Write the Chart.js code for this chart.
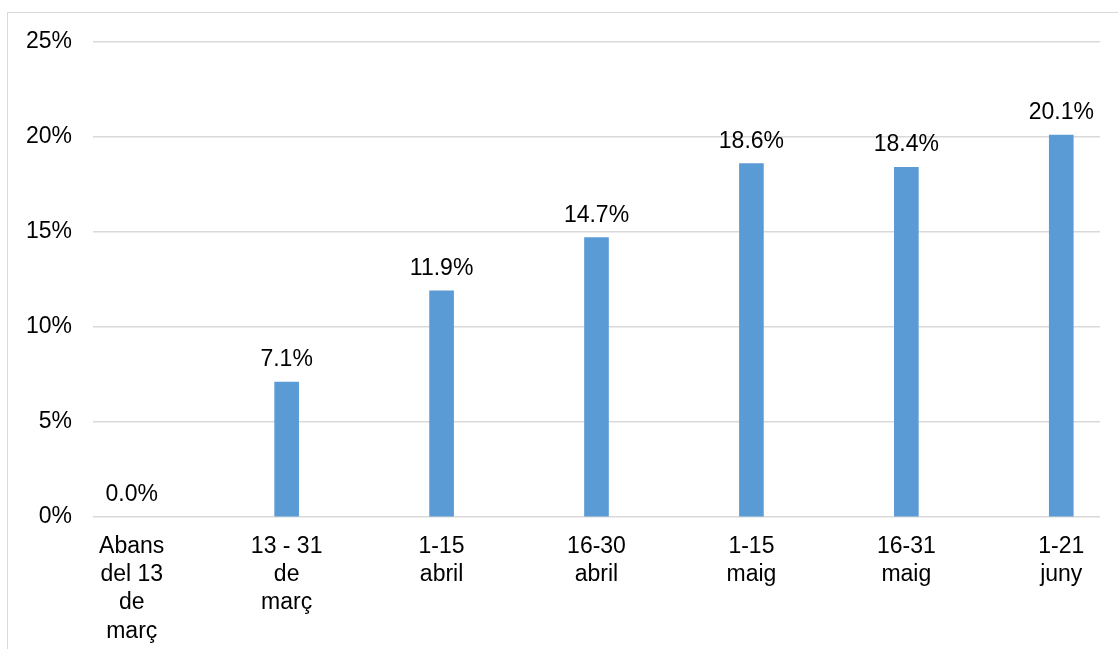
<!DOCTYPE html>
<html>
<head>
<meta charset="utf-8">
<script src="https://cdn.jsdelivr.net/npm/chart.js@4"></script>
<style>
  html, body { margin: 0; padding: 0; background: #fff; overflow: hidden; }
  #frame {
    position: absolute; left: 7px; top: 12px; width: 2000px; height: 2000px;
    border-left: 1.5px solid #d9d9d9; border-top: 1.5px solid #d9d9d9;
  }
  #chart { position: absolute; left: 0; top: 0; }
</style>
</head>
<body>
<div id="frame"></div>
<canvas id="chart" width="1118" height="649"></canvas>
<script>
// periodes (etiquetes en diverses línies)
const categories = [
  ["Abans", "del 13", "de", "març"],
  ["13 - 31", "de", "març"],
  ["1-15", "abril"],
  ["16-30", "abril"],
  ["1-15", "maig"],
  ["16-31", "maig"],
  ["1-21", "juny"],
];
const values = [0.0, 7.1, 11.9, 14.7, 18.6, 18.4, 20.1];
const yTicks = [0, 5, 10, 15, 20, 25];

const FONT = "'Liberation Sans', Arial, sans-serif";

// etiquetes de valor damunt de cada barra
const barLabels = {
  id: "barLabels",
  afterDatasetsDraw(chart) {
    const ctx = chart.ctx;
    const meta = chart.getDatasetMeta(0);
    ctx.save();
    ctx.font = "23px " + FONT;
    ctx.fillStyle = "#000";
    ctx.textAlign = "center";
    ctx.textBaseline = "alphabetic";
    meta.data.forEach((bar, i) => {
      ctx.fillText(values[i].toFixed(1) + "%", bar.x, bar.y - 16);
    });
    ctx.restore();
  },
};

new Chart(document.getElementById("chart"), {
  type: "bar",
  data: {
    datasets: [{
      data: values.map((v, i) => ({ x: i, y: v })),
      // barra de 0 no es veu
      backgroundColor: (c) => (c.raw && c.raw.y === 0) ? "rgba(0,0,0,0)" : "#5b9bd5",
      barThickness: 24,
    }],
  },
  options: {
    responsive: false,
    animation: false,
    layout: { padding: { top: 42, right: 18, bottom: 0, left: 0 } },
    plugins: { legend: { display: false }, tooltip: { enabled: false } },
    scales: {
      x: {
        type: "linear",
        offset: false,
        min: -0.25,
        max: 6.25,
        grid: { display: false, offset: false },
        border: { display: false },
        afterFit: (s) => { s.height = 132; },
        ticks: {
          stepSize: 1,
          includeBounds: false,
          autoSkip: false,
          maxRotation: 0,
          padding: 8,
          color: "#000",
          font: { family: FONT, size: 23, lineHeight: 1.22 },
          callback: (v) => (Number.isInteger(v) && categories[v]) ? categories[v] : "",
        },
      },
      y: {
        min: 0,
        max: 25,
        afterFit: (s) => { s.width = 93; },
        afterBuildTicks: (s) => { s.ticks = yTicks.map((v) => ({ value: v })); },
        grid: { color: "#d9d9d9", lineWidth: 1.5, drawTicks: false },
        border: { display: false },
        ticks: {
          padding: 21,
          color: "#000",
          font: { family: FONT, size: 23 },
          callback: (v) => v + "%",
        },
      },
    },
  },
  plugins: [barLabels],
});
</script>
</body>
</html>
